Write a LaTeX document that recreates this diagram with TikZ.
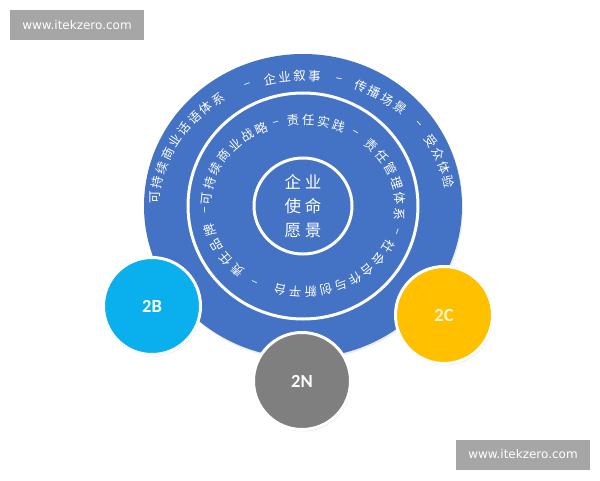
\documentclass[tikz,border=0pt]{standalone}
\usepackage{fontspec}
\setmainfont{Liberation Sans}
\newfontfamily\cjk{Noto Sans CJK SC}
\newfontfamily\lblfont{Carlito}
\newfontfamily\wmfont{DejaVu Sans}
\usetikzlibrary{calc,shadows}
\definecolor{ringblue}{HTML}{4472C4}
\definecolor{bcyan}{HTML}{0AAFEE}
\definecolor{camber}{HTML}{FFC000}
\definecolor{ngray}{HTML}{7F7F7F}
\definecolor{wmgray}{HTML}{A6A6A6}
\definecolor{cream}{HTML}{FFF4D2}
\tikzset{
  ringtxt/.style={font=\cjk\fontsize{12.5}{12.5}\selectfont, text=white, inner sep=0pt},
  ballnode/.style={circle, draw=white, line width=3pt, minimum size=97pt, inner sep=0pt,
    font=\lblfont\bfseries\fontsize{18.5}{18.5}\selectfont, text=white,
    drop shadow={shadow xshift=1pt, shadow yshift=-2pt, opacity=0.18}},
  wmbox/.style={fill=wmgray, text=white, minimum width=134pt, minimum height=30pt, inner sep=0pt,
    font=\wmfont\fontsize{12}{12}\selectfont},
  whitering/.style={draw=white, line width=3pt}
}
% place a run of characters clockwise along an ellipse around (O)
\newcommand\arcrun[6]{%
  \xdef\curt{#2}%
  \foreach \ch [count=\k] in {#6}{%
    \pgfmathsetmacro\nang{atan2(sin(\curt)/#4, cos(\curt)/#3)-90}%
    \node[ringtxt, rotate=\nang] (#1\k) at ($(O)+(\curt:#3 and #4)$) {\ch};%
    \pgfmathsetmacro\locr{#3*sqrt((sin(\curt))^2+(#4/#3*cos(\curt))^2)}%
    \pgfmathsetmacro\nt{\curt-#5/\locr*57.29578}%
    \xdef\curt{\nt}%
  }%
}
\newcommand\arcdash[4]{%
  \pgfmathsetmacro\nang{atan2(sin(#2)/#4, cos(#2)/#3)-90}%
  \node[ringtxt, rotate=\nang] (#1) at ($(O)+(#2:#3 and #4)$) {–};%
}
\begin{document}
\begin{tikzpicture}[x=1pt,y=1pt]
\useasboundingbox (0,0) rectangle (600,480);
\fill[white] (0,0) rectangle (600,480);
\coordinate (O) at (303,274);
% big disc
\fill[ringblue, drop shadow={shadow xshift=1pt, shadow yshift=-2pt, opacity=0.15}] (O) ellipse [x radius=159, y radius=152];
\draw[whitering] (O) ellipse [x radius=115, y radius=113];
\draw[whitering] (O) ellipse [x radius=49, y radius=48];
% outer ring text
\arcrun{oa}{176}{148}{130}{15}{可,持,续,商,业,话,语,体,系}
\arcdash{od1}{112}{148}{130}
\arcrun{ob}{103}{148}{130}{15}{企,业,叙,事}
\arcdash{od2}{76}{148}{130}
\arcrun{oc}{67}{148}{130}{15}{传,播,场,景}
\arcdash{od3}{39}{148}{130}
\arcrun{odd}{30}{148}{130}{15}{受,众,体,验}
% middle ring text
\arcrun{ma}{175}{97}{86}{15.5}{可,持,续,商,业,战,略}
\arcdash{md1}{106}{97}{86}
\arcrun{mb}{96}{97}{86}{15.5}{责,任,实,践}
\arcdash{md2}{57}{97}{86}
\arcrun{mc}{45}{97}{86}{15.5}{责,任,管,理,体,系}
\arcdash{md3}{-17}{97}{86}
\arcrun{mdd}{-28}{97}{86}{15.5}{社,会,合,作,与,创,新,平,台}
\arcdash{md4}{-119}{97}{86}
\arcrun{me}{-132}{97}{86}{16.5}{责,任,品,牌}
\arcdash{md5}{-177}{97}{86}
% centre
\node[font=\cjk\fontsize{16.5}{24}\selectfont, text=white, align=center, inner sep=0pt] (mission) at (O)
  {企\hspace{4pt}业\\使\hspace{4pt}命\\愿\hspace{4pt}景};
% satellites
\node[ballnode, fill=bcyan] (b2B) at (152,174) {2B};
\node[ballnode, fill=camber, text=cream] (b2C) at (444,165) {2C};
\node[ballnode, fill=ngray] (b2N) at (302,99) {2N};
% watermarks
\node[wmbox] (wm1) at (77,455) {www.itekzero.com};
\node[wmbox] (wm2) at (523,25.5) {www.itekzero.com};
\end{tikzpicture}
\end{document}
